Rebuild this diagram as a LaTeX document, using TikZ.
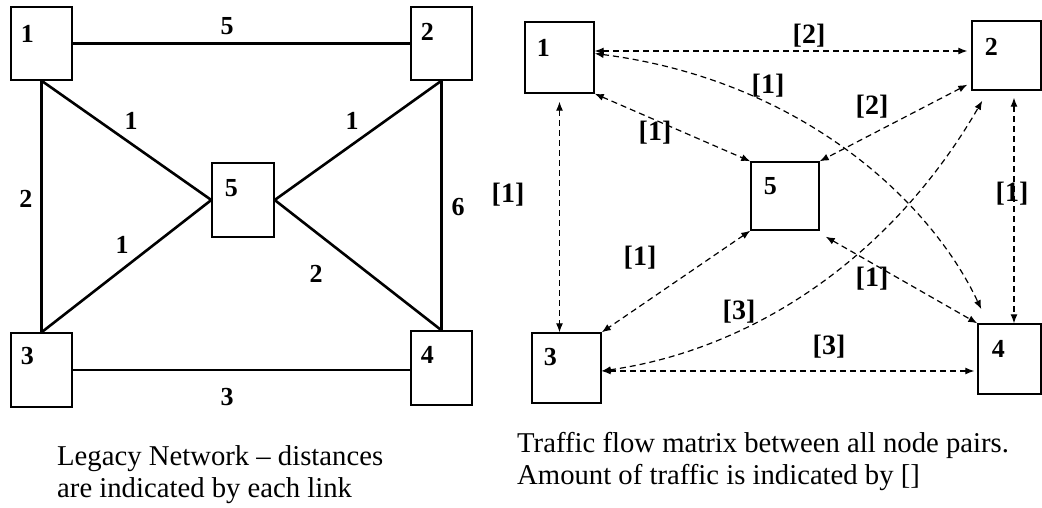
\documentclass[tikz,border=0pt]{standalone}
\usepackage{fontspec}
\setmainfont{Liberation Serif}
\usetikzlibrary{arrows.meta,calc}
\begin{document}
\begin{tikzpicture}[x=1pt,y=-1pt,
  lbox/.style={draw,line width=1.4pt,inner sep=0pt,minimum width=61pt,minimum height=73pt},
  rbox/.style={draw,line width=1.4pt,inner sep=0pt,minimum width=69pt,minimum height=70pt},
  num/.style={font=\bfseries\fontsize{26}{26}\selectfont,inner sep=0pt},
  elab/.style={font=\bfseries\fontsize{26}{26}\selectfont,inner sep=0pt},
  flab/.style={font=\bfseries\fontsize{28}{28}\selectfont,inner sep=0pt},
  link/.style={line width=2.6pt},
  flow/.style={line width=1.2pt,dash pattern=on 6pt off 4pt,<->,>={Latex[length=9pt,width=7pt]}},
  captext/.style={font=\fontsize{28.7}{32}\selectfont,align=left,inner sep=0pt,anchor=north west}]
\useasboundingbox[fill=white] (0,0) rectangle (1042,507);

% ---------- left: legacy network ----------
\node[lbox] (L1) at (41.5,43.5) {};
\node[lbox] (L2) at (441.5,43.5) {};
\node[lbox,minimum width=62pt,minimum height=74pt] (L5) at (243,200) {};
\node[lbox,minimum height=74pt] (L3) at (41.5,370) {};
\node[lbox,minimum height=74pt] (L4) at (441.5,368) {};
\node[num] (nL1) at ($(L1.north west)+(17,28)$) {1};
\node[num] (nL2) at ($(L2.north west)+(17,26)$) {2};
\node[num] (nL5) at ($(L5.north west)+(20,26)$) {5};
\node[num] (nL3) at ($(L3.north west)+(17,24)$) {3};
\node[num] (nL4) at ($(L4.north west)+(17,25)$) {4};

\draw[link] (L1.east) -- (L1.east -| L2.west);
\draw[link] (L1.south) -- (L3.north);
\draw[link] (L2.south) -- (L4.north);
\draw[link] (L3.east) -- (L3.east -| L4.west);
\draw[link] (L1.south) -- (L5.west);
\draw[link] (L2.south) -- (L5.east);
\draw[link] (L3.north) -- (L5.west);
\draw[link] (L4.north) -- (L5.east);

\node[elab] (d12) at (227,26) {5};
\node[elab] (d13) at (26,199) {2};
\node[elab] (d24) at (458,207) {6};
\node[elab] (d15) at (131,121) {1};
\node[elab] (d25) at (352,121) {1};
\node[elab] (d35) at (122,245) {1};
\node[elab] (d45) at (316,274) {2};
\node[elab] (d34) at (227,397) {3};

\node[captext] (capL) at (57,445) {Legacy Network -- distances\\are indicated by each link};

% ---------- right: traffic flow ----------
\node[rbox,minimum height=71pt] (R1) at (559.5,57.5) {};
\node[rbox,minimum height=69pt] (R2) at (1006.5,55.5) {};
\node[rbox,minimum width=68pt,minimum height=68pt] (R5) at (785,196) {};
\node[rbox] (R3) at (566.5,368) {};
\node[rbox,minimum width=63pt] (R4) at (1009.5,359) {};
\node[num] (nR1) at ($(R1.north west)+(19,27)$) {1};
\node[num] (nR2) at ($(R2.north west)+(20,27)$) {2};
\node[num] (nR5) at ($(R5.north west)+(20,25)$) {5};
\node[num] (nR3) at ($(R3.north west)+(19,25)$) {3};
\node[num] (nR4) at ($(R4.north west)+(21,26)$) {4};

\coordinate (c14) at ($(R4.north west)+(4,-14)$);
\coordinate (c32) at ($(R2.south west)+(11,10)$);
\coordinate (c13) at ($(R1.south)+(0,8)$);
\coordinate (c24) at ($(R2.south)+(7.5,7)$);

\draw[flow,shorten >=4pt] ([yshift=6.5pt]R1.east) -- ([yshift=6.5pt]R1.east -| R2.west);
\draw[flow] ([yshift=4pt]R1.east) .. controls (800,80) and (930,200) .. (c14);
\draw[flow] ([yshift=-3pt]R3.east) .. controls (750,350) and (890,260) .. (c32);
\draw[flow] (R1.south east) -- (R5.north west);
\draw[flow] ($(R2.south west)+(-4,-6)$) -- (R5.north east);
\draw[flow] (c13) -- (c13 |- R3.north);
\draw[flow] (c24) -- (c24 |- R4.north);
\draw[flow] (R5.south west) -- (R3.north east);
\draw[flow] ($(R5.south east)+(6,6)$) -- (R4.north west);
\draw[flow,shorten >=3pt] ([yshift=-3pt]R3.east) -- ([yshift=-3pt]R3.east -| R4.west);

\node[flab] (t12) at (809,36) {[2]};
\node[flab] (t14) at (768,86) {[1]};
\node[flab] (t25) at (872,107) {[2]};
\node[flab] (t15) at (655,133) {[1]};
\node[flab] (t13) at (508,195) {[1]};
\node[flab] (t24) at (1012,194) {[1]};
\node[flab] (t53) at (640,258) {[1]};
\node[flab] (t54) at (872,279) {[1]};
\node[flab] (t32) at (739,312) {[3]};
\node[flab] (t34) at (829,347) {[3]};

\node[captext] (capR) at (517,432) {Traffic flow matrix between all node pairs.\\Amount of traffic is indicated by []};
\end{tikzpicture}
\end{document}
